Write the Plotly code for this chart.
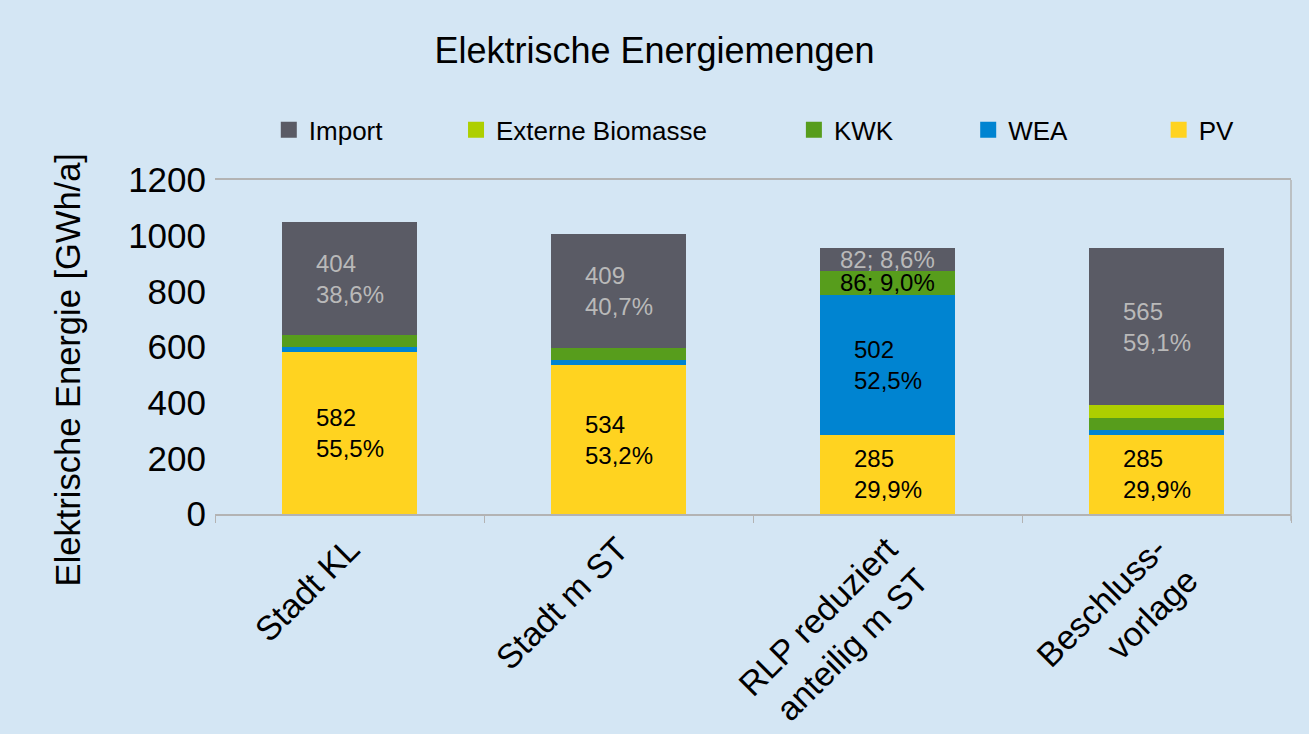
import plotly.graph_objects as go

# Categories and series values (GWh/a)
categories = ["Stadt KL", "Stadt m ST", "RLP reduziert<br>anteilig m ST", "Beschluss-<br>vorlage"]
pv = [582, 534, 285, 285]
wea = [19, 18, 502, 18]
kwk = [43, 44, 86, 43]
biomasse = [0, 0, 0, 45]
imports = [404, 409, 82, 565]

# Data labels per segment
pv_labels = ["582<br>55,5%", "534<br>53,2%", "285<br>29,9%", "285<br>29,9%"]
wea_labels = ["", "", "502<br>52,5%", ""]
kwk_labels = ["", "", "86; 9,0%", ""]
biomasse_labels = ["", "", "", ""]
import_labels = ["404<br>38,6%", "409<br>40,7%", "82; 8,6%", "565<br>59,1%"]

y_ticks = [0, 200, 400, 600, 800, 1000, 1200]

font_family = "Liberation Sans, Arial, sans-serif"
bg = "#d4e6f4"
grey_line = "#b3b3b3"

# series in stacking order (bottom to top)
series = [
    ("PV", pv, pv_labels, "#ffd320", "black"),
    ("WEA", wea, wea_labels, "#0084d1", "black"),
    ("KWK", kwk, kwk_labels, "#579d1c", "black"),
    ("Externe Biomasse", biomasse, biomasse_labels, "#aecf00", "black"),
    ("Import", imports, import_labels, "#5a5b65", "#b9b9b9"),
]

# one legend per entry so the spacing can follow the original
legend_pos = {"Import": 0.050, "Externe Biomasse": 0.224, "KWK": 0.538, "WEA": 0.700, "PV": 0.877}
legend_ids = {"Import": "legend", "Externe Biomasse": "legend2", "KWK": "legend3", "WEA": "legend4", "PV": "legend5"}

fig = go.Figure()
annotations = []
base = [0] * len(categories)
for name, vals, labels, color, txtcolor in series:
    fig.add_trace(go.Bar(
        x=categories, y=vals, name=name, marker_color=color,
        marker_line_width=0, showlegend=False,
    ))
    # legend stand-in with a bigger square symbol
    fig.add_trace(go.Scatter(
        x=[None], y=[None], mode="markers", name=name, legend=legend_ids[name],
        marker=dict(symbol="square", size=17, color=color),
    ))
    for i, (v, lab) in enumerate(zip(vals, labels)):
        if lab:
            annotations.append(dict(
                x=categories[i], y=base[i] + v / 2, text=lab, showarrow=False,
                align="left", font=dict(size=24, color=txtcolor, family=font_family),
            ))
    base = [b + v for b, v in zip(base, vals)]

# y axis title placed like the original (a bit below the plot centre)
annotations.append(dict(
    text="Elektrische Energie [GWh/a]", xref="paper", yref="paper",
    x=0, xshift=-147, y=0.43, xanchor="center", yanchor="middle",
    textangle=-90, showarrow=False, font=dict(size=34.5, color="black", family=font_family),
))

layout_legends = {}
for name, lid in legend_ids.items():
    layout_legends[lid] = dict(
        x=legend_pos[name], y=1.15, xanchor="left", yanchor="middle",
        orientation="h", bgcolor="rgba(0,0,0,0)",
        font=dict(size=26, color="black", family=font_family),
    )

fig.update_layout(
    barmode="stack",
    bargap=0.5,
    width=1309, height=734,
    paper_bgcolor=bg, plot_bgcolor=bg,
    margin=dict(l=215, r=18, t=180, b=220, autoexpand=False),
    font=dict(family=font_family, color="black"),
    title=dict(text="Elektrische Energiemengen", x=0.5, xanchor="center",
               y=0.932, yanchor="middle", font=dict(size=36, color="black")),
    annotations=annotations,
    showlegend=True,
    **layout_legends,
)

fig.update_xaxes(
    showline=True, linecolor=grey_line, linewidth=1.5, mirror=True,
    ticks="outside", tickson="boundaries", ticklen=7, tickcolor=grey_line,
    tickangle=-45, tickfont=dict(size=34, color="black"), showgrid=False,
    automargin=False,
)
fig.update_yaxes(
    range=[0, 1200], tickvals=y_ticks, showgrid=False, zeroline=False,
    tickfont=dict(size=35, color="black"), ticklabelstandoff=8,
    automargin=False,
)

# right edge line of the plot area
fig.add_shape(type="line", xref="paper", yref="paper", x0=1, x1=1, y0=-0.02, y1=1,
              line=dict(color=grey_line, width=1.5))

fig.write_html("out.html", config={"displayModeBar": False},
               post_script="document.body.style.margin='0';document.body.style.overflow='hidden';")
